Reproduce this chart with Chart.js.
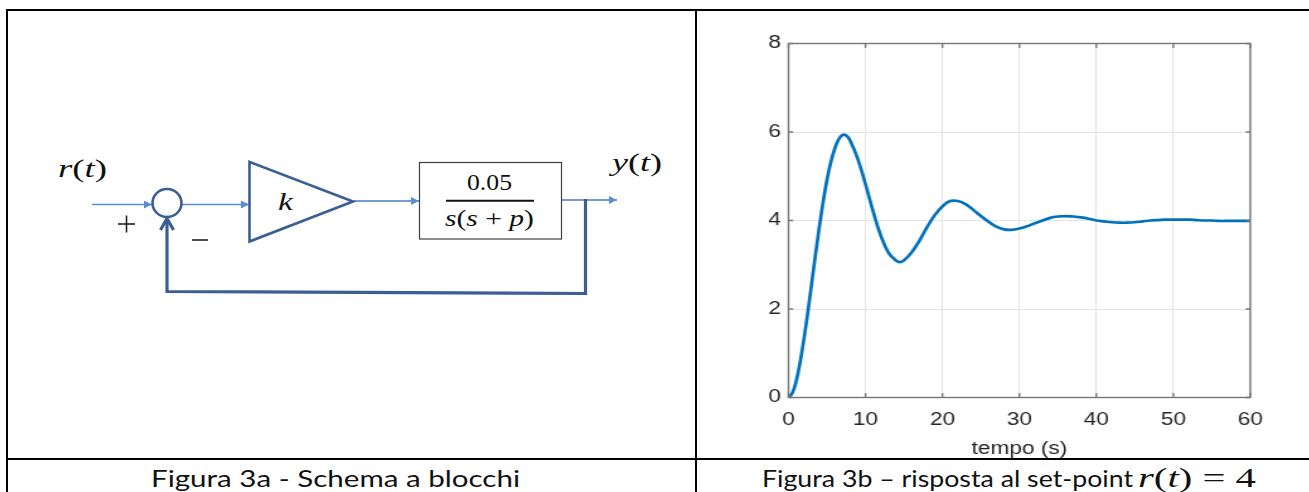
<!DOCTYPE html>
<html>
<head>
<meta charset="utf-8">
<script src="https://cdn.jsdelivr.net/npm/chart.js"></script>
<style>
  html, body { margin: 0; padding: 0; background: #fff; }
  body { width: 1309px; height: 492px; position: relative; overflow: hidden; }
  #schema { position: absolute; left: 0; top: 0; }
  #wrap { position: absolute; left: 740px; top: 20px; width: 427px; height: 440px;
          transform: scaleX(1.26); transform-origin: 0 0; }
</style>
</head>
<body>
<svg id="schema" width="1309" height="492" viewBox="0 0 1309 492">
  <defs>
    <marker id="tip" viewBox="0 0 10 10" refX="10" refY="5" markerWidth="9" markerHeight="8"
            markerUnits="userSpaceOnUse" orient="auto">
      <path d="M0,0 L10,5 L0,10 z" fill="#5b8fd0"/>
    </marker>
  </defs>
  <!-- table -->
  <g stroke="#000" stroke-width="2" fill="none">
    <line x1="6" y1="10" x2="1309" y2="10"/>
    <line x1="7" y1="10" x2="7" y2="492"/>
    <line x1="696" y1="10" x2="696" y2="492"/>
    <line x1="6" y1="459" x2="1309" y2="459"/>
  </g>
  <!-- block diagram -->
  <g fill="none">
    <line x1="92" y1="204.5" x2="152" y2="204.5" stroke="#5b8fd0" stroke-width="1.4" marker-end="url(#tip)"/>
    <line x1="182" y1="204.5" x2="249" y2="204.5" stroke="#5b8fd0" stroke-width="1.4" marker-end="url(#tip)"/>
    <line x1="354" y1="201" x2="419" y2="201" stroke="#4a7ebb" stroke-width="1.4" marker-end="url(#tip)"/>
    <line x1="562" y1="200" x2="617" y2="200" stroke="#4a7ebb" stroke-width="1.4" marker-end="url(#tip)"/>
    <ellipse cx="167" cy="203" rx="14.5" ry="14" stroke="#3b5e95" stroke-width="2.6"/>
    <polygon points="249.5,162 249.5,241.5 353,201.5" stroke="#3b5e95" stroke-width="2.6" stroke-linejoin="miter"/>
    <rect x="419.5" y="162.5" width="142" height="76.5" stroke="#404040" stroke-width="1.2"/>
    <polyline points="585.5,199 585.5,293.5 167,291.5 167,220" stroke="#3b5e95" stroke-width="3.2"/>
    <polyline points="160.5,230 167,218.5 173.5,230" stroke="#3b5e95" stroke-width="3.2"/>
    <line x1="446" y1="200.7" x2="534" y2="200.7" stroke="#111" stroke-width="2"/>
    <line x1="118" y1="224" x2="135" y2="224" stroke="#222" stroke-width="1.6"/>
    <line x1="126.5" y1="215.5" x2="126.5" y2="232.5" stroke="#222" stroke-width="1.6"/>
    <line x1="192" y1="240" x2="208" y2="240" stroke="#222" stroke-width="1.6"/>
  </g>
  <g font-family="Liberation Serif, DejaVu Serif, serif" fill="#111">
    <text x="58" y="177" font-size="25" textLength="49" lengthAdjust="spacingAndGlyphs"><tspan font-style="italic">r</tspan>(<tspan font-style="italic">t</tspan>)</text>
    <text x="612" y="171" font-size="25" textLength="50" lengthAdjust="spacingAndGlyphs"><tspan font-style="italic">y</tspan>(<tspan font-style="italic">t</tspan>)</text>
    <text x="278" y="210" font-size="25" font-style="italic" textLength="15" lengthAdjust="spacingAndGlyphs">k</text>
    <text x="467" y="190" font-size="23" textLength="45" lengthAdjust="spacingAndGlyphs">0.05</text>
    <text x="445" y="226" font-size="23" textLength="89" lengthAdjust="spacingAndGlyphs"><tspan font-style="italic">s</tspan>(<tspan font-style="italic">s</tspan> + <tspan font-style="italic">p</tspan>)</text>
  </g>
  <!-- captions -->
  <g font-family="Lato, Open Sans, sans-serif" font-size="24" fill="#111">
    <text x="151" y="487" textLength="369" lengthAdjust="spacingAndGlyphs">Figura 3a - Schema a blocchi</text>
    <text x="762" y="487" textLength="371" lengthAdjust="spacingAndGlyphs">Figura 3b – risposta al set-point</text>
  </g>
  <text x="1138" y="487" font-family="Liberation Serif, DejaVu Serif, serif" font-size="27" fill="#111"
        textLength="118" lengthAdjust="spacingAndGlyphs"><tspan font-style="italic">r</tspan>(<tspan font-style="italic">t</tspan>) = 4</text>
</svg>

<div id="wrap"><canvas id="myChart" width="427" height="440"></canvas></div>

<script>
const tempo = [0, 0.5, 1, 1.5, 2, 2.5, 3, 3.5, 4, 4.5, 5, 5.5, 6, 6.5, 7, 7.5, 8, 9, 10,
  11, 12, 13, 14, 14.5, 15, 16, 17, 18, 19, 20, 21, 22, 23, 24, 25, 26, 27, 28, 29, 30,
  31, 32, 33, 34, 35, 36, 37, 38, 39, 40, 41, 42, 43, 44, 45, 46, 47, 48, 49, 50,
  51, 52, 53, 54, 55, 56, 57, 58, 59, 60];
const risposta = [0, 0.10, 0.37, 0.79, 1.32, 1.92, 2.57, 3.22, 3.85, 4.42, 4.92, 5.32, 5.62, 5.83, 5.93, 5.92, 5.81, 5.39, 4.82,
  4.20, 3.65, 3.27, 3.09, 3.06, 3.10, 3.28, 3.54, 3.85, 4.12, 4.32, 4.44, 4.44, 4.37, 4.24, 4.10, 3.97, 3.86, 3.80, 3.79, 3.82,
  3.87, 3.94, 4.00, 4.06, 4.09, 4.10, 4.09, 4.07, 4.04, 4.00, 3.98, 3.96, 3.95, 3.95, 3.96, 3.98, 4.00, 4.01, 4.02, 4.02,
  4.02, 4.02, 4.01, 4.00, 4.00, 3.99, 3.99, 3.99, 3.99, 3.99];
const xTicks = [0, 10, 20, 30, 40, 50, 60];
const yTicks = [0, 2, 4, 6, 8];
const xTitle = "tempo (s)";

const points = tempo.map((t, i) => ({ x: t, y: risposta[i] }));

// box round the axes and MATLAB-style inward ticks on all four sides
const boxTicks = {
  id: "boxTicks",
  afterDraw(chart) {
    const { ctx, chartArea: a, scales: { x, y } } = chart;
    ctx.save();
    ctx.strokeStyle = "#767676";
    ctx.lineWidth = 1.4;
    ctx.strokeRect(a.left, a.top, a.right - a.left, a.bottom - a.top);
    ctx.beginPath();
    xTicks.forEach(v => {
      const px = x.getPixelForValue(v);
      ctx.moveTo(px, a.bottom); ctx.lineTo(px, a.bottom - 4.6);
      ctx.moveTo(px, a.top); ctx.lineTo(px, a.top + 4.6);
    });
    yTicks.forEach(v => {
      const py = y.getPixelForValue(v);
      ctx.moveTo(a.left, py); ctx.lineTo(a.left + 3.7, py);
      ctx.moveTo(a.right, py); ctx.lineTo(a.right - 3.7, py);
    });
    ctx.stroke();
    ctx.restore();
  }
};

const tickFont = { family: "Liberation Sans, Arial, sans-serif", size: 18 };

const config = {
  type: "line",
  data: {
    datasets: [{
      data: points,
      borderColor: "#0072bd",
      borderWidth: 2.7,
      pointRadius: 0,
      tension: 0.4,
      fill: false,
    }],
  },
  options: {
    responsive: false,
    animation: false,
    layout: { padding: { top: 23.5, right: 14, left: 0, bottom: 0 } },
    plugins: { legend: { display: false }, tooltip: { enabled: false } },
    scales: {
      x: {
        type: "linear",
        min: 0, max: 60,
        afterBuildTicks: s => { s.ticks = xTicks.map(v => ({ value: v })); },
        afterFit: s => { s.height = 62.5; },
        grid: { color: "#e4e4e4", drawTicks: false },
        border: { display: false },
        ticks: { color: "#262626", font: tickFont, padding: 12, maxRotation: 0 },
        title: { display: true, text: xTitle, color: "#262626", font: tickFont, padding: { top: 0, bottom: 0 } },
      },
      y: {
        min: 0, max: 8,
        afterBuildTicks: s => { s.ticks = yTicks.map(v => ({ value: v })); },
        afterFit: s => { s.width = 38.5; },
        grid: { color: "#e4e4e4", drawTicks: false },
        border: { display: false },
        ticks: { color: "#262626", font: tickFont, padding: 6 },
      },
    },
  },
  plugins: [boxTicks],
};

const myChart = new Chart(document.querySelector("#myChart"), config);
</script>
</body>
</html>
